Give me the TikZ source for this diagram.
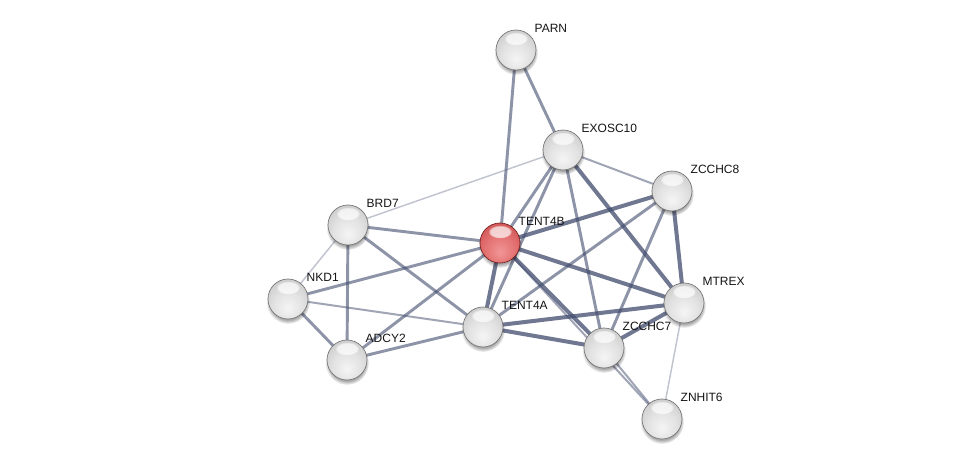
\documentclass[tikz,border=0pt]{standalone}
\usepackage{fontspec}
\setmainfont{Liberation Sans}
\usetikzlibrary{fadings}
\pgfdeclarelayer{edges}
\pgfdeclarelayer{shadows}
\pgfsetlayers{edges,shadows,main}
\definecolor{edgec}{RGB}{66,76,110}
\definecolor{gb1}{RGB}{245,245,245}
\definecolor{gb2}{RGB}{226,226,226}
\definecolor{gb3}{RGB}{198,198,198}
\definecolor{gb4}{RGB}{158,158,158}
\definecolor{gb5}{RGB}{120,120,120}
\definecolor{rb1}{RGB}{242,150,150}
\definecolor{rb2}{RGB}{228,115,115}
\definecolor{rb3}{RGB}{205,80,80}
\definecolor{rb4}{RGB}{165,45,45}
\definecolor{rb5}{RGB}{125,30,30}
\pgfdeclareradialshading{greyball}{\pgfpoint{0bp}{-12bp}}{color(0bp)=(gb1); color(18bp)=(gb2); color(36bp)=(gb3); color(52bp)=(gb4); color(64bp)=(gb5)}
\pgfdeclareradialshading{redball}{\pgfpoint{0bp}{-12bp}}{color(0bp)=(rb1); color(18bp)=(rb2); color(36bp)=(rb3); color(52bp)=(rb4); color(64bp)=(rb5)}
\tikzset{
  prot/.style={circle, inner sep=0pt, minimum size=30pt, shading=greyball, draw=black!55, line width=0.5pt},
  protred/.style={prot, shading=redball, draw={rgb,255:red,115;green,30;blue,30}},
  lbl/.style={anchor=west, font=\fontsize{9pt}{10pt}\selectfont, text=black!92, inner sep=0.5pt},
  eA/.style={draw=edgec, line width=1.1pt, draw opacity=0.33},
  eB/.style={draw=edgec, line width=1.5pt, draw opacity=0.5},
  eC/.style={draw=edgec, line width=2.2pt, draw opacity=0.6},
  eD/.style={draw=edgec, line width=3pt, draw opacity=0.76},
}
\begin{document}
\begin{tikzpicture}[x=0.75pt, y=-0.75pt]
\useasboundingbox (0,0) rectangle (976,465);
% nodes
\node[prot] (PARN) at (516,50) {};
\node[prot] (EXOSC10) at (563,150) {};
\node[prot] (ZCCHC8) at (672,191) {};
\node[prot] (BRD7) at (348,225) {};
\node[protred] (TENT4B) at (500,243) {};
\node[prot] (NKD1) at (288,299) {};
\node[prot] (MTREX) at (684,303) {};
\node[prot] (TENT4A) at (483,327) {};
\node[prot] (ADCY2) at (347,360) {};
\node[prot] (ZCCHC7) at (604,348) {};
\node[prot] (ZNHIT6) at (662,419) {};
% highlights
\foreach \n in {PARN,EXOSC10,ZCCHC8,BRD7,TENT4B,NKD1,MTREX,TENT4A,ADCY2,ZCCHC7,ZNHIT6}{
  \fill[white, opacity=0.7, path fading=circle with fuzzy edge 20 percent] ([yshift=8.5pt]\n.center) ellipse [x radius=9pt, y radius=5pt];
}
% shadows
\begin{pgfonlayer}{shadows}
\foreach \n in {PARN,EXOSC10,ZCCHC8,BRD7,TENT4B,NKD1,MTREX,TENT4A,ADCY2,ZCCHC7,ZNHIT6}{
  \fill[black, opacity=0.35, path fading=circle with fuzzy edge 20 percent] ([yshift=-2.2pt]\n.center) circle [radius=16.5pt];
}
\end{pgfonlayer}
% labels
\foreach \n/\t in {PARN/PARN,EXOSC10/EXOSC10,ZCCHC8/ZCCHC8,BRD7/BRD7,TENT4B/TENT4B,NKD1/NKD1,MTREX/MTREX,TENT4A/TENT4A,ADCY2/ADCY2,ZCCHC7/ZCCHC7,ZNHIT6/ZNHIT6}{
  \node[lbl] (l\n) at ([xshift=13.3pt, yshift=16.5pt]\n.center) {\t};
}
% edges
\begin{pgfonlayer}{edges}
\draw[eA] (EXOSC10.center) -- (BRD7.center);
\draw[eA] (BRD7.center) -- (NKD1.center);
\draw[eA] (MTREX.center) -- (ZNHIT6.center);
\draw[eB] (EXOSC10.center) -- (ZCCHC8.center);
\draw[eB] (ZCCHC7.center) -- (ZNHIT6.center);
\draw[eB] (TENT4B.center) -- (ZNHIT6.center);
\draw[eB] (NKD1.center) -- (TENT4A.center);
\draw[eC] (PARN.center) -- (TENT4B.center);
\draw[eC] (PARN.center) -- (EXOSC10.center);
\draw[eC] (BRD7.center) -- (TENT4B.center);
\draw[eC] (BRD7.center) -- (ADCY2.center);
\draw[eC] (BRD7.center) -- (TENT4A.center);
\draw[eC] (NKD1.center) -- (TENT4B.center);
\draw[eC] (NKD1.center) -- (ADCY2.center);
\draw[eC] (ADCY2.center) -- (TENT4A.center);
\draw[eC] (ADCY2.center) -- (TENT4B.center);
\draw[eC] (EXOSC10.center) -- (TENT4B.center);
\draw[eC] (EXOSC10.center) -- (TENT4A.center);
\draw[eC] (EXOSC10.center) -- (ZCCHC7.center);
\draw[eC] (ZCCHC8.center) -- (TENT4A.center);
\draw[eC] (ZCCHC8.center) -- (ZCCHC7.center);
\draw[eD] (EXOSC10.center) -- (MTREX.center);
\draw[eD] (ZCCHC8.center) -- (TENT4B.center);
\draw[eD] (ZCCHC8.center) -- (MTREX.center);
\draw[eD] (TENT4B.center) -- (MTREX.center);
\draw[eD] (TENT4B.center) -- (TENT4A.center);
\draw[eD] (TENT4B.center) -- (ZCCHC7.center);
\draw[eD] (TENT4A.center) -- (MTREX.center);
\draw[eD] (TENT4A.center) -- (ZCCHC7.center);
\draw[eD] (MTREX.center) -- (ZCCHC7.center);
\end{pgfonlayer}
\end{tikzpicture}
\end{document}
